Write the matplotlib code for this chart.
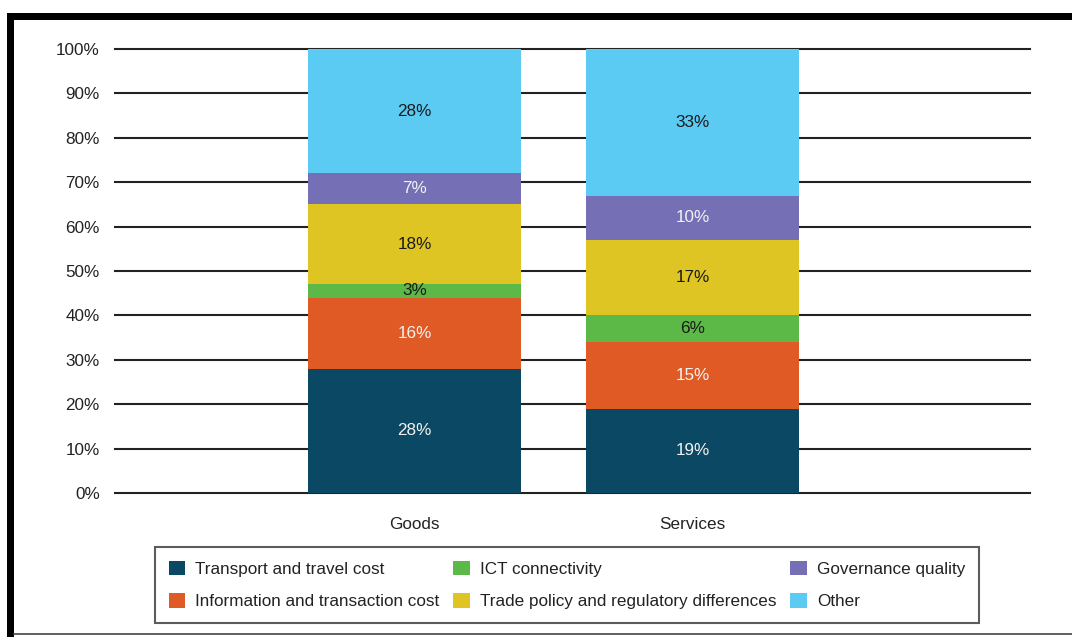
import matplotlib.pyplot as plt
from matplotlib.patches import Rectangle
from matplotlib.lines import Line2D

plt.rcParams['font.family'] = ['Liberation Sans', 'DejaVu Sans']

categories = ['Goods', 'Services']
series_names = ['Transport and travel cost', 'Information and transaction cost',
                'ICT connectivity', 'Trade policy and regulatory differences',
                'Governance quality', 'Other']
goods = [28, 16, 3, 18, 7, 28]
services = [19, 15, 6, 17, 10, 33]
colors = ['#0b4863', '#e05a26', '#5db947', '#dfc523', '#7570b5', '#5bcbf4']
label_colors = ['#f2f2f2', '#f2f2f2', '#1a1a1a', '#1a1a1a', '#f2f2f2', '#1a1a1a']
yticks = list(range(0, 101, 10))

W, H = 1072, 637
FS = 12.3
fig = plt.figure(figsize=(W / 100, H / 100), dpi=100)
ax = fig.add_axes([115 / W, 1 - 493 / H, (1030 - 115) / W, (493 - 49) / H])

x = [0, 1]
bottoms = [0, 0]
for i, name in enumerate(series_names):
    vals = [goods[i], services[i]]
    ax.bar(x, vals, width=0.766, bottom=bottoms, color=colors[i],
           label=name, zorder=3)
    for xi, b, v in zip(x, bottoms, vals):
        ax.text(xi, b + v / 2, f'{v}%', ha='center', va='center',
                fontsize=FS, color=label_colors[i], zorder=4)
    bottoms = [b + v for b, v in zip(bottoms, vals)]

ax.set_xlim(-1.077, 2.214)
ax.set_ylim(0, 100)
ax.set_yticks(yticks)
ax.set_yticklabels([f'{t}%' for t in yticks], fontsize=FS, color='#222222')
ax.set_xticks(x)
ax.set_xticklabels(categories, fontsize=FS, color='#222222')
ax.tick_params(axis='y', length=0, pad=11)
ax.tick_params(axis='x', length=0, pad=17)
for t in yticks:
    ax.axhline(t, color='#222222', linewidth=1.5, zorder=1, clip_on=False)
for s in ax.spines.values():
    s.set_visible(False)

leg = fig.legend(loc='lower left', ncol=3, mode='expand',
                 bbox_to_anchor=(155 / W, 1 - 623 / H, (979 - 155) / W, (623 - 548) / H),
                 borderaxespad=0, fontsize=FS, frameon=True, fancybox=False,
                 edgecolor='#333333', handlelength=0.95, handleheight=0.95,
                 handletextpad=0.6, columnspacing=1.0, labelspacing=0.95,
                 borderpad=0.8)
leg.get_frame().set_linewidth(1.5)
for t in leg.get_texts():
    t.set_color('#222222')

# outer frame
fig.add_artist(Rectangle((7 / W, 1 - 20 / H), 1 - 7 / W, 7 / H,
                         transform=fig.transFigure, color='black', lw=0))
fig.add_artist(Rectangle((7 / W, 0), 7 / W, 1 - 13 / H,
                         transform=fig.transFigure, color='black', lw=0))
fig.add_artist(Line2D([14 / W, 1], [1 - 634 / H] * 2, transform=fig.transFigure,
                      color='#444444', lw=1.2))

fig.savefig('out.png', dpi=100)
